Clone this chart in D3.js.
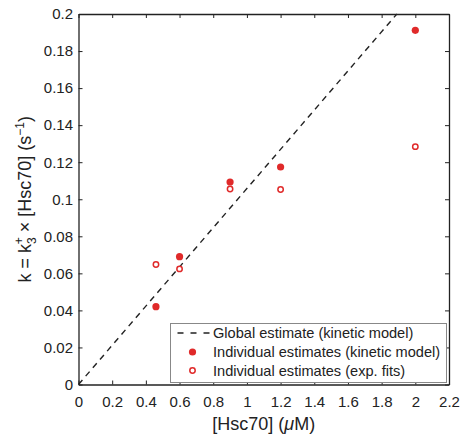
<!DOCTYPE html>
<html>
<head>
<meta charset="utf-8">
<script src="https://cdn.jsdelivr.net/npm/d3@7"></script>
<style>
  body { margin: 0; background: #fff; }
  text { font-family: "Liberation Sans", Arial, sans-serif; fill: #222; }
</style>
</head>
<body>
<script>
// concentrations of Hsc70 (uM)
const conc = [0.46, 0.6, 0.9, 1.2, 2.0];
// individual estimates, kinetic model
const kinetic = [0.042, 0.069, 0.1093, 0.1174, 0.1912];
// individual estimates, exponential fits
const expFits = [0.0648, 0.0624, 0.1055, 0.1053, 0.1284];
// global estimate slope k3+ (per uM per s)
const globalSlope = 0.1058;
const xTicks = [0, 0.2, 0.4, 0.6, 0.8, 1, 1.2, 1.4, 1.6, 1.8, 2, 2.2];
const yTicks = [0, 0.02, 0.04, 0.06, 0.08, 0.1, 0.12, 0.14, 0.16, 0.18, 0.2];
const legendLabels = ["Global estimate (kinetic model)", "Individual estimates (kinetic model)", "Individual estimates (exp. fits)"];

const W = 463, H = 443;
const margin = {top: 14, right: 14, bottom: 58.5, left: 78.5};
const width = W - margin.left - margin.right;
const height = H - margin.top - margin.bottom;
const red = "#e02a2a";

const svg = d3.select("body").append("svg")
    .attr("width", W).attr("height", H);
const g = svg.append("g")
    .attr("transform", "translate(" + margin.left + "," + margin.top + ")");

const x = d3.scaleLinear().domain([0, 2.2]).range([0, width]);
const y = d3.scaleLinear().domain([0, 0.2]).range([height, 0]);

// axes, ticks pointing inward
const fmt = d => String(+d.toFixed(2));
const xAxis = d3.axisBottom(x).tickValues(xTicks).tickSizeInner(-4).tickSizeOuter(0)
    .tickPadding(12).tickFormat(fmt);
const yAxis = d3.axisLeft(y).tickValues(yTicks).tickSizeInner(-4).tickSizeOuter(0)
    .tickPadding(5.5).tickFormat(fmt);
const xTop = d3.axisTop(x).tickValues(xTicks).tickSizeInner(-4).tickSizeOuter(0).tickFormat("");
const yRight = d3.axisRight(y).tickValues(yTicks).tickSizeInner(-4).tickSizeOuter(0).tickFormat("");

g.append("g").attr("transform", "translate(0," + height + ")").call(xAxis);
g.append("g").call(yAxis);
g.append("g").call(xTop);
g.append("g").attr("transform", "translate(" + width + ",0)").call(yRight);

g.selectAll(".domain").attr("stroke", "#222").attr("stroke-width", 1.3);
g.selectAll(".tick line").attr("stroke", "#222");
g.selectAll(".tick text").style("font-size", "15px").attr("fill", "#222");

// global estimate line
const xEnd = 0.2 / globalSlope;
g.append("line")
    .attr("x1", x(0)).attr("y1", y(0))
    .attr("x2", x(xEnd)).attr("y2", y(globalSlope * xEnd))
    .attr("stroke", "#222").attr("stroke-width", 1.4)
    .attr("stroke-dasharray", "6,5");

// filled points
g.selectAll(".kin").data(conc).enter().append("circle")
    .attr("class", "kin")
    .attr("cx", d => x(d)).attr("cy", (d, i) => y(kinetic[i]))
    .attr("r", 3.6).attr("fill", red);

// open points
g.selectAll(".exp").data(conc).enter().append("circle")
    .attr("class", "exp")
    .attr("cx", d => x(d)).attr("cy", (d, i) => y(expFits[i]))
    .attr("r", 2.7).attr("fill", "#fff").attr("stroke", red).attr("stroke-width", 1.5);

// legend
const lg = svg.append("g").attr("transform", "translate(170.5,323.5)");
lg.append("rect").attr("width", 276).attr("height", 59)
    .attr("fill", "#fff").attr("stroke", "#888").attr("stroke-width", 1);
const rowY = [9.5, 28.5, 47];
lg.append("line").attr("x1", 7).attr("x2", 40).attr("y1", rowY[0]).attr("y2", rowY[0])
    .attr("stroke", "#222").attr("stroke-width", 1.4).attr("stroke-dasharray", "6,7");
lg.append("circle").attr("cx", 22).attr("cy", rowY[1]).attr("r", 3.6).attr("fill", red);
lg.append("circle").attr("cx", 22).attr("cy", rowY[2]).attr("r", 2.7)
    .attr("fill", "#fff").attr("stroke", red).attr("stroke-width", 1.5);
lg.selectAll(".lt").data(legendLabels).enter().append("text")
    .attr("x", 42.5).attr("y", (d, i) => rowY[i] + 5)
    .style("font-size", "14.6px").text(d => d);

// axis titles
const xt = svg.append("text")
    .attr("x", margin.left + width / 2).attr("y", 430)
    .attr("text-anchor", "middle").style("font-size", "18px");
xt.append("tspan").text("[Hsc70] (");
xt.append("tspan").style("font-style", "italic").text("\u03bc");
xt.append("tspan").text("M)");

const yt = svg.append("text")
    .attr("transform", "translate(31," + (margin.top + height / 2) + ") rotate(-90)")
    .attr("text-anchor", "middle").style("font-size", "18px");
yt.append("tspan").text("k = k");
yt.append("tspan").attr("dy", 5).style("font-size", "12px").text("3");
yt.append("tspan").attr("dx", -7).attr("dy", -13).style("font-size", "12px").text("+");
yt.append("tspan").attr("dy", 8).text(" \u00d7 [Hsc70] (s");
yt.append("tspan").attr("dy", -7).style("font-size", "12px").text("\u22121");
yt.append("tspan").attr("dy", 7).text(")");
</script>
</body>
</html>
